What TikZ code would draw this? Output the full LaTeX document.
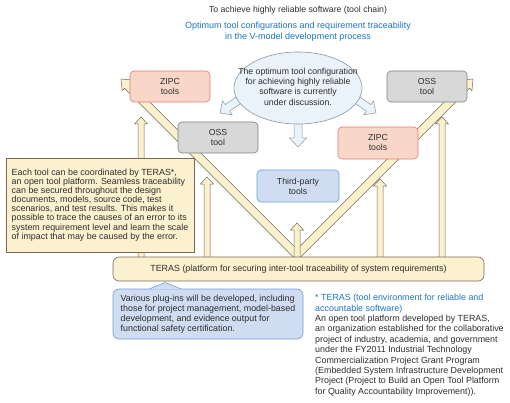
\documentclass[tikz,border=0pt]{standalone}
\usepackage{fontspec}
\setmainfont{Liberation Sans}
\usetikzlibrary{calc,shapes.geometric}
\definecolor{tblue}{RGB}{24,118,196}
\definecolor{txt}{RGB}{45,45,45}
\definecolor{zipcfill}{RGB}{248,214,200}
\definecolor{zipcline}{RGB}{232,122,116}
\definecolor{ossfill}{RGB}{216,216,216}
\definecolor{ossline}{RGB}{128,128,128}
\definecolor{tpfill}{RGB}{207,220,241}
\definecolor{tpline}{RGB}{108,160,216}
\definecolor{cream}{RGB}{252,241,206}
\definecolor{creamline}{RGB}{118,106,86}
\definecolor{discfill}{RGB}{234,242,250}
\definecolor{discline}{RGB}{138,150,166}
\def\blockarrow[#1](#2)(#3)(#4:#5:#6){%
  \coordinate (ba-h) at ($(#3)!#6!(#2)$);
  \draw[#1] ($(#2)!#4!90:(#3)$) -- ($(ba-h)!#4!90:(#3)$) -- ($(ba-h)!#5!90:(#3)$) -- (#3)
    -- ($(ba-h)!#5!-90:(#3)$) -- ($(ba-h)!#4!-90:(#3)$) -- ($(#2)!#4!-90:(#3)$) -- cycle;}
\tikzset{
  toolbox/.style={draw, rounded corners=4pt, minimum width=80pt, minimum height=31pt,
    align=center, line width=0.6pt, inner sep=0pt},
  zipc/.style={toolbox, fill=zipcfill, draw=zipcline},
  oss/.style={toolbox, fill=ossfill, draw=ossline},
  thirdp/.style={toolbox, fill=tpfill, draw=tpline, minimum width=82pt, minimum height=32pt},
  creamarrow/.style={fill=cream, draw=creamline, line width=0.5pt, line join=miter},
  discarrow/.style={fill=discfill, draw=discline, line width=0.5pt, line join=miter},
}
\begin{document}
\begin{tikzpicture}[x=1pt, y=-1pt, text=txt, font=\fontsize{8.7}{10}\selectfont]
		\useasboundingbox (0,0) rectangle (510,403);
		
		% headings
		\node (title) at (298,10) {To achieve highly reliable software (tool chain)};
		\node[text=tblue, align=center, font=\fontsize{9}{10.8}\selectfont] (subtitle) at (298,31.5)
			{Optimum tool configurations and requirement traceability\\in the V-model development process};
		
		% V band
		\draw[creamarrow] (121,79) -- (132.66,80.06) -- (130.19,82.53) -- (297,249.34)
			-- (463.81,82.53) -- (461.34,80.06) -- (473,79) -- (471.94,90.66) -- (469.47,88.19)
			-- (297,260.66) -- (124.53,88.19) -- (122.06,90.66) -- cycle;
		
		% arrows up from TERAS
		\blockarrow[creamarrow](141,259)(141,117)(3pt:6.5pt:7pt);
		\blockarrow[creamarrow](207,259)(207,177)(3pt:6.5pt:7pt);
		\blockarrow[creamarrow](297,259)(297,223)(3pt:6.5pt:7pt);
		\blockarrow[creamarrow](380,259)(380,179)(3pt:6.5pt:7pt);
		\blockarrow[creamarrow](442,259)(442,117)(3pt:6.5pt:7pt);
		
		% tools
		\node[zipc] (zipcl) at (170,86.5) {ZIPC\\tools};
		\node[oss] (ossr) at (427,86.5) {OSS\\tool};
		\node[oss] (ossl) at (218,137.5) {OSS\\tool};
		\node[zipc, minimum height=32pt] (zipcr) at (378,143) {ZIPC\\tools};
		\node[thirdp] (third) at (298,186) {Third-party\\tools};
		
		\node[fill=cream, draw=creamline, line width=0.6pt, minimum width=188pt, minimum height=94pt,
			align=left, inner sep=0pt, font=\fontsize{8.9}{9.1}\selectfont] (expl) at (100,205)
			{Each tool can be coordinated by TERAS*,\\
			an open tool platform. Seamless traceability\\
			can be secured throughout the design\\
			documents, models, source code, test\\
			scenarios, and test results. This makes it\\
			possible to trace the causes of an error to its\\
			system requirement level and learn the scale\\
			of impact that may be caused by the error.};
		
		% discussion bubble
		\blockarrow[discarrow](244.6,95.9)(220,113)(4pt:8.5pt:9pt);
		\blockarrow[discarrow](351.4,95.9)(376,113)(4pt:8.5pt:9pt);
		\blockarrow[discarrow](298,110)(298,147)(4pt:8.5pt:9pt);
		\draw[fill=discfill, draw=discline, line width=0.6pt] (298,88) ellipse (64 and 36);
		\node[align=center, font=\fontsize{8.7}{10.3}\selectfont] (disc) at (298,86.5)
			{The optimum tool configuration\\for achieving highly reliable\\software is currently\\under discussion.};
		
		% platform
		\node[fill=cream, draw=creamline, line width=0.6pt, rounded corners=6pt, minimum width=371pt,
			minimum height=24pt, inner sep=0pt, font=\fontsize{8.9}{10}\selectfont] (teras) at (298.5,269)
			{TERAS (platform for securing inter-tool traceability of system requirements)};
		
		\node[fill=tpfill, draw=tpline, line width=0.6pt, rounded corners=6pt, minimum width=190pt,
			minimum height=50pt, align=left, inner sep=0pt, font=\fontsize{8.9}{10.2}\selectfont] (plugins) at (208,314)
			{Various plug-ins will be developed, including\\
			those for project management, model-based\\
			development, and evidence output for\\
			functional safety certification.};
		\fill[tpfill] ($(plugins.north west)+(37,0.7)$) -- (165,282.5) -- ($(plugins.north west)+(68,0.7)$) -- cycle;
		\draw[draw=tpline, line width=0.6pt] ($(plugins.north west)+(37,0)$) -- (165,282.5) -- ($(plugins.north west)+(68,0)$);
		
		% footnote
		\node[anchor=north west, align=left, inner sep=0pt, font=\fontsize{8.9}{10.4}\selectfont] (note) at (315,294)
			{\textcolor{tblue}{* TERAS (tool environment for reliable and}\\
			\textcolor{tblue}{accountable software)}\\
			An open tool platform developed by TERAS,\\
			an organization established for the collaborative\\
			project of industry, academia, and government\\
			under the FY2011 Industrial Technology\\
			Commercialization Project Grant Program\\
			(Embedded System Infrastructure Development\\
			Project (Project to Build an Open Tool Platform\\
			for Quality Accountability Improvement)).};
		
	\end{tikzpicture}
\end{document}
